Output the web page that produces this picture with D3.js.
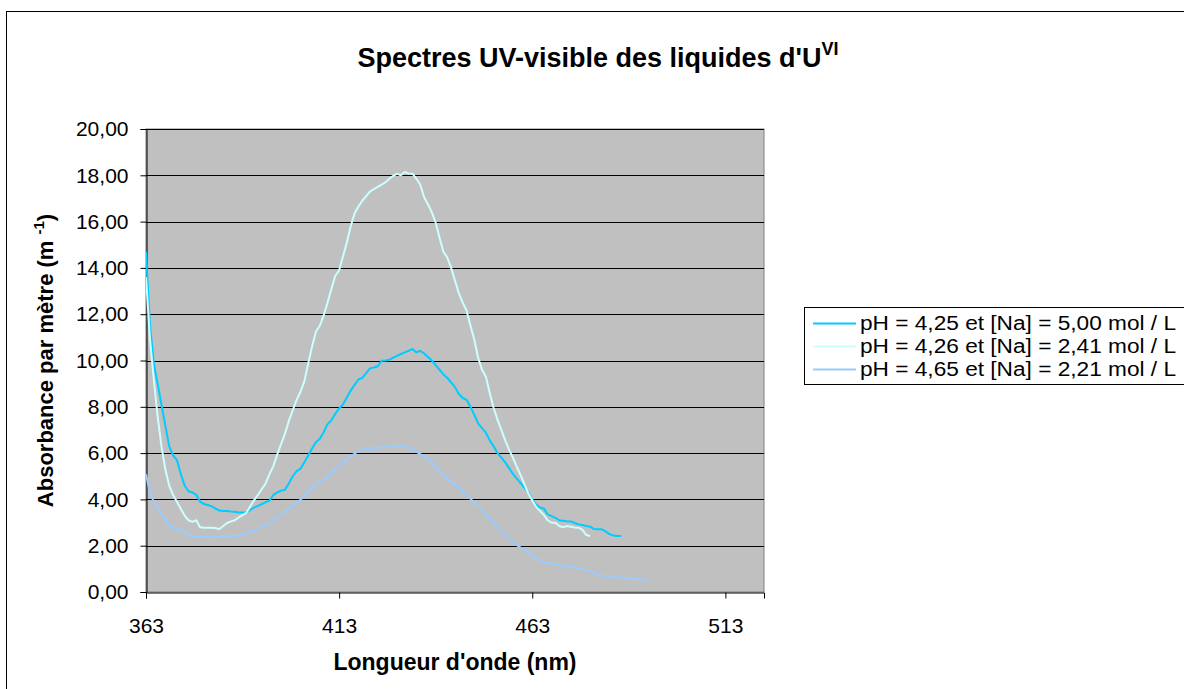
<!DOCTYPE html>
<html>
<head>
<meta charset="utf-8">
<script src="https://cdn.jsdelivr.net/npm/d3@7"></script>
<style>
  html, body { margin: 0; padding: 0; background: #fff; }
  svg { display: block; font-family: "Liberation Sans", Arial, sans-serif; }
</style>
</head>
<body>
<svg id="chart" width="1184" height="689"></svg>
<script>
// Wavelengths (nm) and absorbance per metre for each solution
const wavelengths1 = d3.range(363, 487);
const absorbance1 = [
  14.7, 11.6, 9.9, 9.0, 8.1, 7.2, 6.3, 5.9, 5.7, 5.1,
  4.6, 4.35, 4.3, 4.2, 3.9, 3.8, 3.76, 3.7, 3.6, 3.52,
  3.5, 3.5, 3.48, 3.47, 3.43, 3.43, 3.43, 3.55, 3.65, 3.72,
  3.8, 3.88, 3.95, 4.2, 4.3, 4.38, 4.42, 4.7, 5.0, 5.22,
  5.33, 5.6, 5.9, 6.2, 6.47, 6.62, 6.9, 7.25, 7.42, 7.7,
  7.93, 8.1, 8.4, 8.7, 8.95, 9.18, 9.25, 9.45, 9.66, 9.7,
  9.75, 9.99, 10.0, 10.03, 10.12, 10.2, 10.28, 10.35, 10.42, 10.5,
  10.35, 10.42, 10.3, 10.15, 10.0, 9.8, 9.6, 9.4, 9.25, 9.05,
  8.85, 8.55, 8.38, 8.3, 8.0, 7.65, 7.28, 7.08, 6.88, 6.55,
  6.3, 6.0, 5.8, 5.6, 5.35, 5.1, 4.9, 4.7, 4.5, 4.3,
  4.0, 3.78, 3.65, 3.6, 3.35, 3.28, 3.2, 3.1, 3.08, 3.06,
  3.05, 2.98, 2.92, 2.89, 2.85, 2.82, 2.72, 2.71, 2.71, 2.62,
  2.5, 2.44, 2.42, 2.42
];

const wavelengths2 = d3.range(363, 479);
const absorbance2 = [
  13.6, 11.0, 9.2, 7.6, 6.3, 5.3, 4.6, 4.2, 3.9, 3.6,
  3.3, 3.1, 3.03, 3.1, 2.8, 2.78, 2.78, 2.78, 2.76, 2.72,
  2.85, 2.98, 3.05, 3.1, 3.22, 3.32, 3.42, 3.7, 3.97, 4.2,
  4.45, 4.7, 5.1, 5.45, 5.95, 6.4, 6.85, 7.4, 7.85, 8.3,
  8.65, 9.1, 9.88, 10.6, 11.25, 11.5, 11.95, 12.5, 13.1, 13.65,
  13.9, 14.5, 15.1, 15.8, 16.35, 16.65, 16.9, 17.1, 17.3, 17.4,
  17.5, 17.6, 17.7, 17.85, 17.98, 18.06, 18.0, 18.14, 18.08, 18.07,
  17.85, 17.6, 17.05, 16.75, 16.4, 15.95, 15.3, 14.7, 14.45, 14.0,
  13.45, 12.9, 12.5, 12.15, 11.5, 10.9, 10.1, 9.6, 9.3, 8.6,
  7.95, 7.45, 7.0, 6.55, 6.15, 5.8, 5.4, 5.05, 4.65, 4.25,
  3.95, 3.68, 3.5, 3.33, 3.1, 2.99, 2.99, 2.85, 2.8, 2.85,
  2.82, 2.79, 2.78, 2.68, 2.46, 2.42
];

const wavelengths3 = d3.range(363, 494);
const absorbance3 = [
  5.1, 4.3, 3.9, 3.65, 3.4, 3.15, 2.9, 2.78, 2.71, 2.69,
  2.6, 2.45, 2.42, 2.4, 2.39, 2.38, 2.37, 2.36, 2.36, 2.38,
  2.41, 2.42, 2.42, 2.42, 2.47, 2.5, 2.53, 2.6, 2.66, 2.74,
  2.82, 2.89, 2.98, 3.07, 3.22, 3.36, 3.47, 3.6, 3.74, 3.86,
  3.98, 4.15, 4.32, 4.52, 4.62, 4.75, 4.84, 5.0, 5.15, 5.3,
  5.45, 5.6, 5.72, 5.84, 5.98, 6.08, 6.15, 6.2, 6.22, 6.23,
  6.23, 6.24, 6.25, 6.28, 6.3, 6.3, 6.29, 6.28, 6.24, 6.16,
  6.06, 5.95, 5.88, 5.75, 5.6, 5.42, 5.2, 5.05, 4.92, 4.75,
  4.65, 4.5, 4.33, 4.18, 4.03, 3.85, 3.7, 3.55, 3.3, 3.18,
  3.0, 2.8, 2.62, 2.48, 2.3, 2.15, 2.02, 1.92, 1.82, 1.7,
  1.58, 1.46, 1.38, 1.3, 1.26, 1.22, 1.21, 1.19, 1.12, 1.1,
  1.08, 1.06, 1.02, 1.0, 0.95, 0.92, 0.85, 0.75, 0.7, 0.69,
  0.66, 0.65, 0.63, 0.63, 0.62, 0.6, 0.56, 0.55, 0.54, 0.52,
  0.49
];

const seriesLabels = [
  "pH = 4,25 et [Na] = 5,00 mol / L",
  "pH = 4,26 et [Na] = 2,41 mol / L",
  "pH = 4,65 et [Na] = 2,21 mol / L"
];
const seriesColors = ["#00CCFF", "#CCFFFF", "#99CCFF"];

const xTicks = [363, 413, 463, 513];
const yTicks = [0, 2, 4, 6, 8, 10, 12, 14, 16, 18, 20];

const series = [
  { label: seriesLabels[0], color: seriesColors[0], points: wavelengths1.map((w, i) => [w, absorbance1[i]]) },
  { label: seriesLabels[1], color: seriesColors[1], points: wavelengths2.map((w, i) => [w, absorbance2[i]]) },
  { label: seriesLabels[2], color: seriesColors[2], points: wavelengths3.map((w, i) => [w, absorbance3[i]]) }
];

const FONT = "'Liberation Sans', Arial, sans-serif";
const svg = d3.select("#chart");
const plot = { left: 146, top: 129, right: 764, bottom: 592 };

// outer chart frame (runs past the right and bottom edges)
svg.append("rect")
  .attr("x", 6.5).attr("y", 11.5)
  .attr("width", 1300).attr("height", 800)
  .attr("fill", "#fff").attr("stroke", "#000").attr("stroke-width", 1);

const x = d3.scaleLinear().domain([363, 523]).range([plot.left, plot.right]);
const y = d3.scaleLinear().domain([0, 20]).range([plot.bottom, plot.top]);

// plot area background
svg.append("rect")
  .attr("x", plot.left).attr("y", plot.top)
  .attr("width", plot.right - plot.left).attr("height", plot.bottom - plot.top)
  .attr("fill", "#C0C0C0").attr("stroke", "#808080").attr("stroke-width", 1);

// horizontal gridlines
svg.append("g")
  .selectAll("line")
  .data(yTicks.filter(d => d > 0))
  .join("line")
  .attr("x1", plot.left).attr("x2", plot.right)
  .attr("y1", d => Math.round(y(d)) + 0.5).attr("y2", d => Math.round(y(d)) + 0.5)
  .attr("stroke", "#000").attr("stroke-width", 1);

const fmt = d => d3.format(".2f")(d).replace(".", ",");

// y axis
const yAxis = svg.append("g")
  .attr("transform", `translate(${plot.left + 0.5},0)`)
  .call(d3.axisLeft(y).tickValues(yTicks).tickFormat(fmt).tickSize(6).tickPadding(12));
yAxis.select(".domain").attr("stroke", "#000");
yAxis.selectAll(".tick line").attr("stroke", "#000");
yAxis.selectAll("text").attr("font-size", 21).attr("fill", "#000").attr("font-family", FONT);

// x axis
const xAxis = svg.append("g")
  .attr("transform", `translate(0,${plot.bottom + 0.5})`)
  .call(d3.axisBottom(x).tickValues(xTicks).tickFormat(d3.format("d")).tickSize(6).tickPadding(20));
xAxis.select(".domain").attr("stroke", "#000");
xAxis.selectAll(".tick line").attr("stroke", "#000");
xAxis.selectAll("text").attr("font-size", 21).attr("fill", "#000").attr("font-family", FONT);

// spectra
const line = d3.line().x(d => x(d[0])).y(d => y(d[1]));
svg.append("clipPath").attr("id", "plotclip")
  .append("rect").attr("x", plot.left).attr("y", plot.top)
  .attr("width", plot.right - plot.left).attr("height", plot.bottom - plot.top);
svg.append("g").attr("clip-path", "url(#plotclip)")
  .selectAll("path")
  .data(series)
  .join("path")
  .attr("d", d => line(d.points))
  .attr("fill", "none")
  .attr("stroke", d => d.color)
  .attr("stroke-width", 2)
  .attr("stroke-linejoin", "round");

// title
const title = svg.append("text")
  .attr("x", 598).attr("y", 67)
  .attr("text-anchor", "middle")
  .attr("font-size", 27).attr("font-weight", "bold").attr("fill", "#000");
title.append("tspan").text("Spectres UV-visible des liquides d'U");
title.append("tspan").attr("dy", -12).attr("font-size", 18).text("VI");

// x axis title
svg.append("text")
  .attr("x", (plot.left + plot.right) / 2).attr("y", 670)
  .attr("text-anchor", "middle")
  .attr("font-size", 23).attr("font-weight", "bold").attr("fill", "#000")
  .text("Longueur d'onde (nm)");

// y axis title
const yTitle = svg.append("text")
  .attr("transform", `translate(53,${(plot.top + plot.bottom) / 2}) rotate(-90)`)
  .attr("text-anchor", "middle")
  .attr("font-size", 22).attr("font-weight", "bold").attr("fill", "#000");
yTitle.append("tspan").text("Absorbance par mètre (m ");
yTitle.append("tspan").attr("dy", -9).attr("font-size", 15).text("-1");
yTitle.append("tspan").attr("dy", 9).text(")");

// legend
const legend = svg.append("g");
legend.append("rect")
  .attr("x", 804.5).attr("y", 307.5)
  .attr("width", 500).attr("height", 77)
  .attr("fill", "#fff").attr("stroke", "#000").attr("stroke-width", 1);
const items = legend.selectAll("g.item")
  .data(series)
  .join("g")
  .attr("class", "item")
  .attr("transform", (d, i) => `translate(0,${323.5 + i * 23})`);
items.append("line")
  .attr("x1", 813).attr("x2", 856).attr("y1", 0).attr("y2", 0)
  .attr("stroke", d => d.color).attr("stroke-width", 2);
items.append("text")
  .attr("x", 860).attr("y", 0).attr("dy", "0.35em")
  .attr("font-size", 19.5).attr("fill", "#000")
  .attr("textLength", 316).attr("lengthAdjust", "spacingAndGlyphs")
  .text(d => d.label);
</script>
</body>
</html>
